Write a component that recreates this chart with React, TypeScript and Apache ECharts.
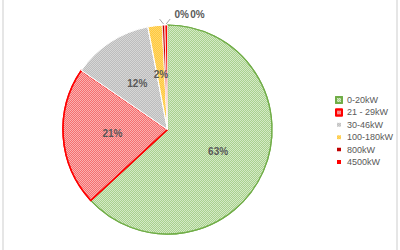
import React, { useEffect, useRef } from "react";
import * as echarts from "echarts";

const categories = ["0-20kW", "21 - 29kW", "30-46kW", "100-180kW", "800kW", "4500kW"];
const values = [630, 214, 124, 22, 4, 4];
const baseColors = ["#d4eac6", "#fbb0b0", "#d6d6d6", "#ffd86e", "#c00000", "#ff0000"];
const decalColors = ["#a9d18e", "#f56f6f", "#bdbdbd", "#ffc83d", "#c00000", "#ff0000"];
const borderColors = ["#70ad47", "#ff0000", "#ffffff", "#ffffff", "#ffffff", "#ffffff"];
const borderWidths = [1.2, 1.5, 1, 1, 0.5, 0.5];

export default function App() {
  const ref = useRef<HTMLDivElement>(null);
  useEffect(() => {
    document.body.style.margin = "0";
    const chart = echarts.init(ref.current!, undefined, { renderer: "svg" });
    const total = values.reduce((a, b) => a + b, 0);
    const data = categories.map((name, i) => {
      const small = values[i] / total < 0.01;
      return {
        name,
        value: values[i],
        itemStyle: {
          color: baseColors[i],
          borderColor: borderColors[i],
          borderWidth: borderWidths[i],
          decal: small
            ? { symbol: "none" }
            : {
                symbol: "rect",
                symbolSize: 1,
                color: decalColors[i],
                dashArrayX: [[1, 1], [0, 1, 1, 0]],
                dashArrayY: [1, 0],
                rotation: 0,
              },
        },
        label: small
          ? { position: "outside", distanceToLabelLine: 0 }
          : { position: "inner" },
        labelLine: small ? { show: true, length: 6, length2: 4 } : { show: false },
      };
    });
    chart.setOption({
      animation: false,
      backgroundColor: "#ffffff",
      graphic: [
        { type: "rect", shape: { x: 2, y: 0, width: 2, height: 250 }, style: { fill: "#e6e6e6" } },
        { type: "rect", shape: { x: 396, y: 0, width: 2, height: 250 }, style: { fill: "#e6e6e6" } },
      ],
      legend: {
        orient: "vertical",
        left: 330,
        top: 90,
        itemWidth: 6,
        itemHeight: 6,
        itemGap: 2.4,
        icon: "rect",
        textStyle: { fontFamily: "Liberation Sans", fontSize: 9, color: "#595959", lineHeight: 10 },
        data: categories,
      },
      series: [
        {
          type: "pie",
          center: [167.5, 129.5],
          radius: [0, 104.5],
          startAngle: 90,
          clockwise: true,
          avoidLabelOverlap: false,
          label: {
            show: true,
            formatter: (p: any) => Math.round(p.percent) + "%",
            fontFamily: "Liberation Sans",
            fontSize: 10,
            fontWeight: "bold",
            color: "#595959",
          },
          labelLine: { lineStyle: { color: "#a6a6a6", width: 1 } },
          labelLayout: (params: any) => {
            const pts = params.labelLinePoints;
            if (!pts || params.dataIndex < 4) return {};
            const p0 = pts[0];
            const k = params.dataIndex - 4;
            return {
              x: p0[0] + 11 + k * 13,
              y: p0[1] - 11,
              align: "left",
              verticalAlign: "middle",
              hideOverlap: false,
              labelLinePoints: [
                [p0[0], p0[1] - 1],
                [p0[0] + (k === 0 ? -4 : 4), p0[1] - 6],
                [p0[0] + (k === 0 ? -4 : 4), p0[1] - 6],
              ],
            };
          },
          emphasis: { disabled: true },
          data,
        },
      ],
    });
    return () => chart.dispose();
  }, []);
  return <div ref={ref} style={{ width: 400, height: 250 }} />;
}
